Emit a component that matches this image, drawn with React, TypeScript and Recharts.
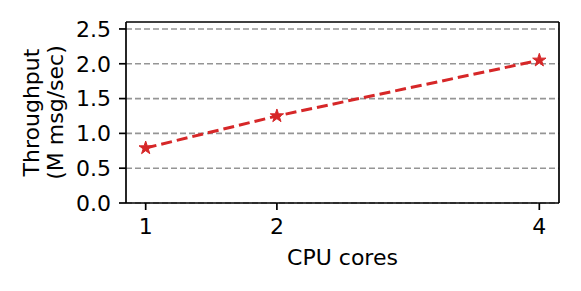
import React from "react";
import { LineChart, Line, XAxis, YAxis, CartesianGrid, ReferenceLine } from "recharts";

const cores = [1, 2, 4];
const throughput = [0.79, 1.25, 2.05];
const xTicks = [1, 2, 4];
const yTicks = [0, 0.5, 1, 1.5, 2, 2.5];
const xDomain: [number, number] = [0.85, 4.15];
const yDomain: [number, number] = [0, 2.6];

const data = cores.map((c, i) => ({ cores: c, value: throughput[i] }));

const FONT = "'DejaVu Sans', sans-serif";
const RED = "#d62728";

const Star = (props: any) => {
  const { cx, cy, index } = props;
  if (cx == null || cy == null) return <g key={index} />;
  const R = 7;
  const r = R * 0.382;
  const pts: string[] = [];
  for (let k = 0; k < 10; k++) {
    const rad = k % 2 === 0 ? R : r;
    const a = -Math.PI / 2 + (k * Math.PI) / 5;
    pts.push(`${cx + rad * Math.cos(a)},${cy + rad * Math.sin(a)}`);
  }
  return <polygon key={index} points={pts.join(" ")} fill={RED} stroke={RED} strokeWidth={1} />;
};

const YLabel = (props: any) => {
  const vb = props.viewBox || {};
  const cy = vb.y + vb.height / 2;
  return (
    <g>
      <text x={39} y={cy} transform={`rotate(-90, 39, ${cy})`} textAnchor="middle" fontSize={22} fill="#000" fontFamily={FONT}>
        Throughput
      </text>
      <text x={63} y={cy} transform={`rotate(-90, 63, ${cy})`} textAnchor="middle" fontSize={22} fill="#000" fontFamily={FONT}>
        (M msg/sec)
      </text>
    </g>
  );
};

const XLabel = (props: any) => {
  const vb = props.viewBox || {};
  return (
    <text x={vb.x + vb.width / 2} y={vb.y + 62} textAnchor="middle" fontSize={22} fill="#000" fontFamily={FONT}>
      CPU cores
    </text>
  );
};

export default function App() {
  return (
    <div style={{ position: "absolute", left: 0, top: 0, background: "#fff" }}>
      <LineChart
        width={581}
        height={291}
        data={data}
        margin={{ top: 22, right: 22, left: 0, bottom: 0 }}
        style={{ fontFamily: FONT }}
      >
        <CartesianGrid
          vertical={false}
          horizontalValues={yTicks}
          stroke="#959595"
          strokeWidth={1.6}
          strokeDasharray="6 3"
        />
        <XAxis
          dataKey="cores"
          type="number"
          domain={xDomain}
          ticks={xTicks}
          height={88}
          axisLine={{ stroke: "#000", strokeWidth: 1.7 }}
          tickLine={{ stroke: "#000", strokeWidth: 1.7 }}
          tickSize={7}
          tickMargin={8}
          tick={{ fill: "#000", fontSize: 22, fontFamily: FONT }}
          label={<XLabel />}
        />
        <YAxis
          type="number"
          domain={yDomain}
          ticks={yTicks}
          width={126}
          axisLine={{ stroke: "#000", strokeWidth: 1.7 }}
          tickLine={{ stroke: "#000", strokeWidth: 1.7 }}
          tickSize={7}
          tickMargin={8}
          tickFormatter={(v: number) => v.toFixed(1)}
          tick={{ fill: "#000", fontSize: 22, fontFamily: FONT }}
          label={<YLabel />}
        />
        <ReferenceLine y={yDomain[1]} stroke="#000" strokeWidth={1.7} />
        <ReferenceLine x={xDomain[1]} stroke="#000" strokeWidth={1.7} />
        <Line
          type="linear"
          dataKey="value"
          stroke={RED}
          strokeWidth={3}
          strokeDasharray="11 5"
          dot={Star}
          activeDot={false}
          isAnimationActive={false}
        />
      </LineChart>
    </div>
  );
}
